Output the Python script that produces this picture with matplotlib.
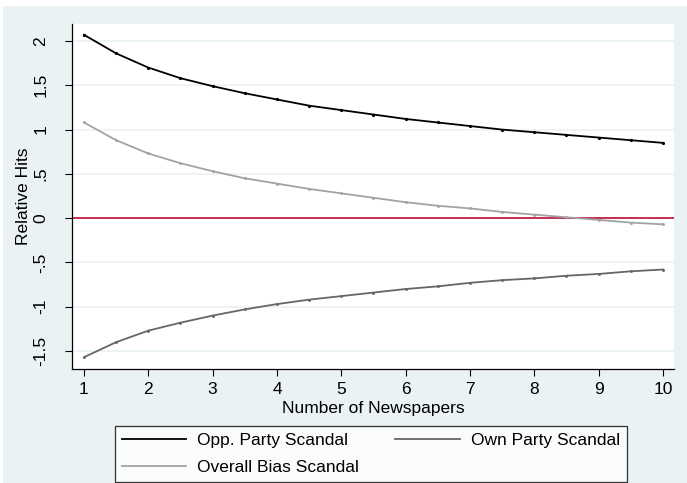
import matplotlib
matplotlib.use("Agg")
import matplotlib.pyplot as plt
from matplotlib.patches import Rectangle

plt.rcParams['font.family'] = ['Liberation Sans', 'DejaVu Sans']

# values
newspapers = [1, 1.5, 2, 2.5, 3, 3.5, 4, 4.5, 5, 5.5, 6, 6.5, 7, 7.5, 8, 8.5, 9, 9.5, 10]
opp_party = [2.07, 1.86, 1.70, 1.58, 1.49, 1.41, 1.34, 1.27, 1.22, 1.17,
             1.12, 1.08, 1.04, 1.00, 0.97, 0.94, 0.91, 0.88, 0.85]
own_party = [-1.57, -1.40, -1.27, -1.18, -1.10, -1.03, -0.97, -0.92, -0.88, -0.84,
             -0.80, -0.77, -0.73, -0.70, -0.68, -0.65, -0.63, -0.60, -0.58]
overall_bias = [1.08, 0.88, 0.73, 0.62, 0.53, 0.45, 0.39, 0.33, 0.28, 0.23,
                0.18, 0.14, 0.11, 0.07, 0.04, 0.01, -0.02, -0.05, -0.07]

yticks = [-1.5, -1, -0.5, 0, 0.5, 1, 1.5, 2]
ytick_labels = ['-1.5', '-1', '-.5', '0', '.5', '1', '1.5', '2']
xticks = list(range(1, 11))

bg = '#EAF2F3'
fs = 12.5
W, H = 687, 483
fig = plt.figure(figsize=(W / 100, H / 100), dpi=100, facecolor='white')
# stata graph region (top strip of picture is white)
fig.patches.append(Rectangle((3 / W, 0), 1, 1 - 6 / H, transform=fig.transFigure,
                             facecolor=bg, edgecolor='none', zorder=-10))

ax = fig.add_axes([72 / W, 1 - 369 / H, (674 - 72) / W, (369 - 24) / H])
ax.set_facecolor('white')

for y in yticks:
    ax.axhline(y, color=bg, lw=1.2, zorder=0)
ax.axhline(0, color='#C41E4A', lw=1.3, zorder=1)

ax.plot(newspapers, opp_party, color='black', lw=1.3, marker='o', ms=1.3,
        label='Opp. Party Scandal', zorder=3)
ax.plot(newspapers, overall_bias, color='#A3A3A3', lw=1.3, marker='o', ms=1.1,
        label='Overall Bias Scandal', zorder=3)
ax.plot(newspapers, own_party, color='#666666', lw=1.3, marker='o', ms=1.1,
        label='Own Party Scandal', zorder=3)

ax.set_xlim(0.8135, 10.171)
ax.set_ylim(-1.703, 2.192)
ax.set_xticks(xticks)
ax.set_yticks(yticks)
ax.set_yticklabels(ytick_labels, rotation=90, va='center')
ax.tick_params(direction='out', length=5, width=0.8, labelsize=fs)
ax.tick_params(axis='y', pad=12)
ax.tick_params(axis='x', pad=4)
for s in ['top', 'right']:
    ax.spines[s].set_visible(False)
for s in ['left', 'bottom']:
    ax.spines[s].set_linewidth(0.9)

ax.set_xlabel('Number of Newspapers', fontsize=fs, labelpad=3)
ax.set_ylabel('Relative Hits', fontsize=fs, labelpad=2)

handles, labels = ax.get_legend_handles_labels()
leg = fig.legend(handles, labels, ncol=2, loc='upper left',
                 bbox_to_anchor=(115 / W, 1 - 426 / H),
                 fontsize=fs, frameon=True, fancybox=False,
                 edgecolor='black', handlelength=3.7, handletextpad=0.63,
                 labelspacing=0.68, borderpad=0.4, borderaxespad=0,
                 columnspacing=2.1)
leg.get_frame().set_linewidth(0.9)
for line in leg.get_lines():
    line.set_marker('')

fig.savefig('out.png', dpi=100, facecolor='white')
